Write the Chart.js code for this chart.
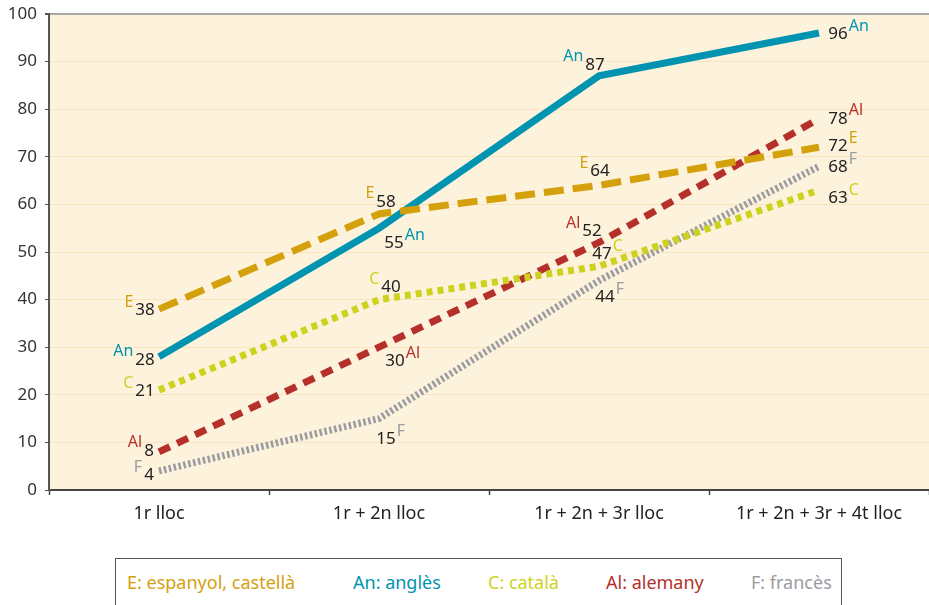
<!DOCTYPE html>
<html>
<head>
<meta charset="utf-8">
<script src="https://cdn.jsdelivr.net/npm/chart.js@4"></script>
<style>
    html, body { margin: 0; padding: 0; background: #fff; overflow: hidden; }
    #wrap { position: relative; width: 929px; height: 605px; }
    #chart { position: absolute; left: 0; top: 0; }
    #legend {
        position: absolute; left: 115px; top: 558px; width: 727px; height: 60px;
        border: 1px solid #555; box-sizing: border-box;
        font-family: "Noto Sans", sans-serif; font-size: 18px;
    }
    #legend span { position: absolute; top: 11px; white-space: nowrap; }
</style>
</head>
<body>
<div id="wrap">
    <canvas id="chart" width="929" height="530"></canvas>
    <div id="legend"></div>
</div>
<script>
// ========== 資料 ==========
var categories = ["1r lloc", "1r + 2n lloc", "1r + 2n + 3r lloc", "1r + 2n + 3r + 4t lloc"];
var espanyol = [38, 58, 64, 72];
var angles   = [28, 55, 87, 96];
var catala   = [21, 40, 47, 63];
var alemany  = [8, 30, 52, 78];
var frances  = [4, 15, 44, 68];
var yTicks   = [0, 10, 20, 30, 40, 50, 60, 70, 80, 90, 100];

// ========== 系列設定 ==========
var series = [
    { key: "E",  name: "E: espanyol, castellà", data: espanyol, color: "#d4a00c", width: 7, dash: [20, 9],
      labels: [[-14, 1, "b"], [7, -12, "b"], [1, -14, "b"], [19, -1, "a"]] },
    { key: "An", name: "An: anglès", data: angles, color: "#0094b0", width: 7, dash: [],
      labels: [[-14, 3, "b"], [15, 15, "a"], [-4, -11, "b"], [19, 1, "a"]] },
    { key: "C",  name: "C: català", data: catala, color: "#cdd21e", width: 7, dash: [6, 5],
      labels: [[-14, 1, "b"], [12, -12, "b"], [3, -12, "a"], [19, 8, "a"]] },
    { key: "Al", name: "Al: alemany", data: alemany, color: "#b5302a", width: 7, dash: [12, 8],
      labels: [[-10, -1, "b"], [16, 14, "a"], [-7, -11, "b"], [19, 0, "a"]] },
    { key: "F",  name: "F: francès", data: frances, color: "#9a9ca2", width: 7, dash: [2.5, 2.5],
      labels: [[-10, 4, "b"], [7, 21, "a"], [6, 17, "a"], [19, 1, "a"]] }
];

var legendLeft = [11, 237, 372, 490, 635];
var legend = document.getElementById("legend");
series.forEach(function(s, i) {
    legend.innerHTML += '<span style="left:' + legendLeft[i] + 'px;color:' + s.color + '">' + s.name + '</span>';
});

// ========== 外掛：背景 + 數值標籤 ==========
var bgPlugin = {
    id: "bg",
    beforeDraw: function(chart) {
        var a = chart.chartArea, c = chart.ctx;
        c.save();
        c.fillStyle = "#fdf2dc";
        c.fillRect(a.left, a.top, a.right - a.left, a.bottom - a.top);
        c.restore();
    }
};

var labelPlugin = {
    id: "pointLabels",
    afterDatasetsDraw: function(chart) {
        var c = chart.ctx;
        c.save();
        c.textBaseline = "middle";
        series.forEach(function(s, di) {
            var meta = chart.getDatasetMeta(di);
            meta.data.forEach(function(pt, i) {
                var p = s.labels[i];
                var x = pt.x + p[0], y = pt.y + p[1];
                var txt = String(s.data[i]);
                c.font = '17px "Noto Sans"';
                c.fillStyle = "#222";
                c.textAlign = "center";
                c.fillText(txt, x, y);
                var w = c.measureText(txt).width;
                c.font = '16px "Noto Sans"';
                c.fillStyle = s.color;
                if (p[2] === "b") {
                    c.textAlign = "right";
                    c.fillText(s.key, x - w / 2 - 2, y - 8);
                } else {
                    c.textAlign = "left";
                    c.fillText(s.key, x + w / 2 + 1, y - 8);
                }
            });
        });
        c.restore();
    }
};

// ========== 圖表 ==========
var ctx = document.getElementById("chart").getContext("2d");
new Chart(ctx, {
    type: "line",
    data: {
        labels: categories,
        datasets: series.map(function(s) {
            return {
                label: s.name,
                data: s.data,
                borderColor: s.color,
                borderWidth: s.width,
                borderDash: s.dash,
                borderCapStyle: "butt",
                borderJoinStyle: "miter",
                pointRadius: 0,
                tension: 0,
                fill: false
            };
        })
    },
    options: {
        responsive: false,
        animation: false,
        layout: { padding: { top: 14, right: 0, left: 0, bottom: 0 } },
        plugins: { legend: { display: false }, tooltip: { enabled: false } },
        scales: {
            x: {
                offset: true,
                grid: { offset: true, drawOnChartArea: false, tickLength: 5, tickColor: "#444", tickWidth: 1.5 },
                border: { color: "#444", width: 2 },
                ticks: { color: "#222", font: { family: "Noto Sans", size: 18 }, padding: 8, maxRotation: 0 },
                afterFit: function(scale) {
                    scale.height = 40;
                    scale.paddingLeft = 0; scale.paddingRight = 0;
                }
            },
            y: {
                min: 0, max: 100,
                afterBuildTicks: function(scale) {
                    scale.ticks = yTicks.map(function(v) { return { value: v }; });
                },
                grid: {
                    color: function(c) { return c.tick && c.tick.value === 100 ? "#a9a9a9" : "#fae4c0"; },
                    lineWidth: function(c) { return c.tick && c.tick.value === 100 ? 2 : 1; },
                    tickLength: 4, tickColor: "#555"
                },
                border: { color: "#555", width: 2 },
                ticks: { color: "#333", font: { family: "Noto Sans", size: 17 }, padding: 8 },
                afterFit: function(scale) {
                    scale.width = 49;
                    scale.paddingTop = 0; scale.paddingBottom = 0;
                }
            }
        }
    },
    plugins: [bgPlugin, labelPlugin]
});
</script>
</body>
</html>
